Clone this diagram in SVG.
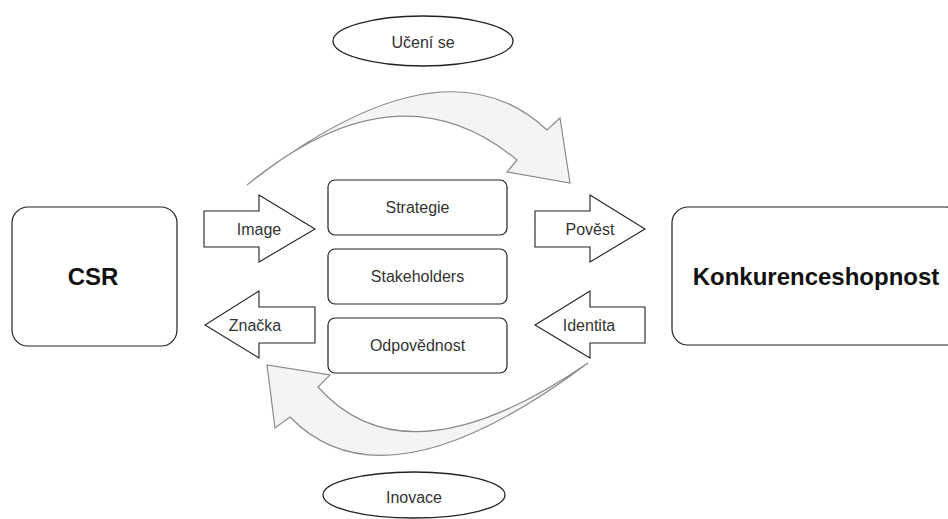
<svg xmlns="http://www.w3.org/2000/svg" width="948" height="519" viewBox="0 0 948 519">
<style>
.box{fill:#fff;stroke:#222;stroke-width:1.2}
.ell{fill:#fff;stroke:#222;stroke-width:1.3}
.arr{fill:#fff;stroke:#222;stroke-width:1.1}
.curve{fill:#f4f4f4;stroke:#8a8a8a;stroke-width:1.2;stroke-linejoin:miter}
.t{font-family:"Liberation Sans",Arial,sans-serif;font-size:16px;fill:#333;text-anchor:middle}
.big{font-family:"Liberation Sans",Arial,sans-serif;font-size:24px;font-weight:bold;fill:#111;text-anchor:middle}
</style>
<rect width="948" height="519" fill="#fff"/>
<g id="connectors">
<path class="curve" d="M247,185 Q443,32 547,130 L560,118 L570,183 L507,172 L517,160 Q398,61 247,185 Z"/>
<path class="curve" d="M588,363 Q385,515 290,417 L275,428 L267,365 L330,375 L318,387 Q407,487 588,363 Z"/>
</g>
<g id="ucenise">
<ellipse class="ell" cx="423" cy="41" rx="90" ry="25"/>
<text class="t" x="423" y="48">Učení se</text>
</g>
<g id="inovace">
<ellipse class="ell" cx="414" cy="495" rx="91" ry="23"/>
<text class="t" x="414" y="503">Inovace</text>
</g>
<g id="csr">
<rect class="box" x="12" y="207" width="165" height="139" rx="16"/>
<text class="big" x="93" y="285">CSR</text>
</g>
<g id="konkurenceshopnost">
<rect class="box" x="672" y="207" width="290" height="138" rx="16"/>
<text class="big" x="816" y="285">Konkurenceshopnost</text>
</g>
<g id="strategie">
<rect class="box" x="328" y="180" width="179" height="55" rx="7"/>
<text class="t" x="417.5" y="213">Strategie</text>
</g>
<g id="stakeholders">
<rect class="box" x="328" y="249" width="179" height="55" rx="7"/>
<text class="t" x="417.5" y="282">Stakeholders</text>
</g>
<g id="odpovednost">
<rect class="box" x="328" y="318" width="179" height="55" rx="7"/>
<text class="t" x="417.5" y="351">Odpovědnost</text>
</g>
<g id="image">
<path class="arr" d="M204,211 L259,211 L259,195 L315,229 L259,262 L259,247 L204,247 Z"/>
<text class="t" x="259" y="235">Image</text>
</g>
<g id="povest">
<path class="arr" d="M535,211 L590,211 L590,195 L645,229 L590,262 L590,247 L535,247 Z"/>
<text class="t" x="590" y="235">Pověst</text>
</g>
<g id="znacka">
<path class="arr" d="M315,307 L259,307 L259,291 L205,325 L259,358 L259,343 L315,343 Z"/>
<text class="t" x="255" y="331">Značka</text>
</g>
<g id="identita">
<path class="arr" d="M645,307 L590,307 L590,291 L535,325 L590,358 L590,343 L645,343 Z"/>
<text class="t" x="589" y="331">Identita</text>
</g>
</svg>
